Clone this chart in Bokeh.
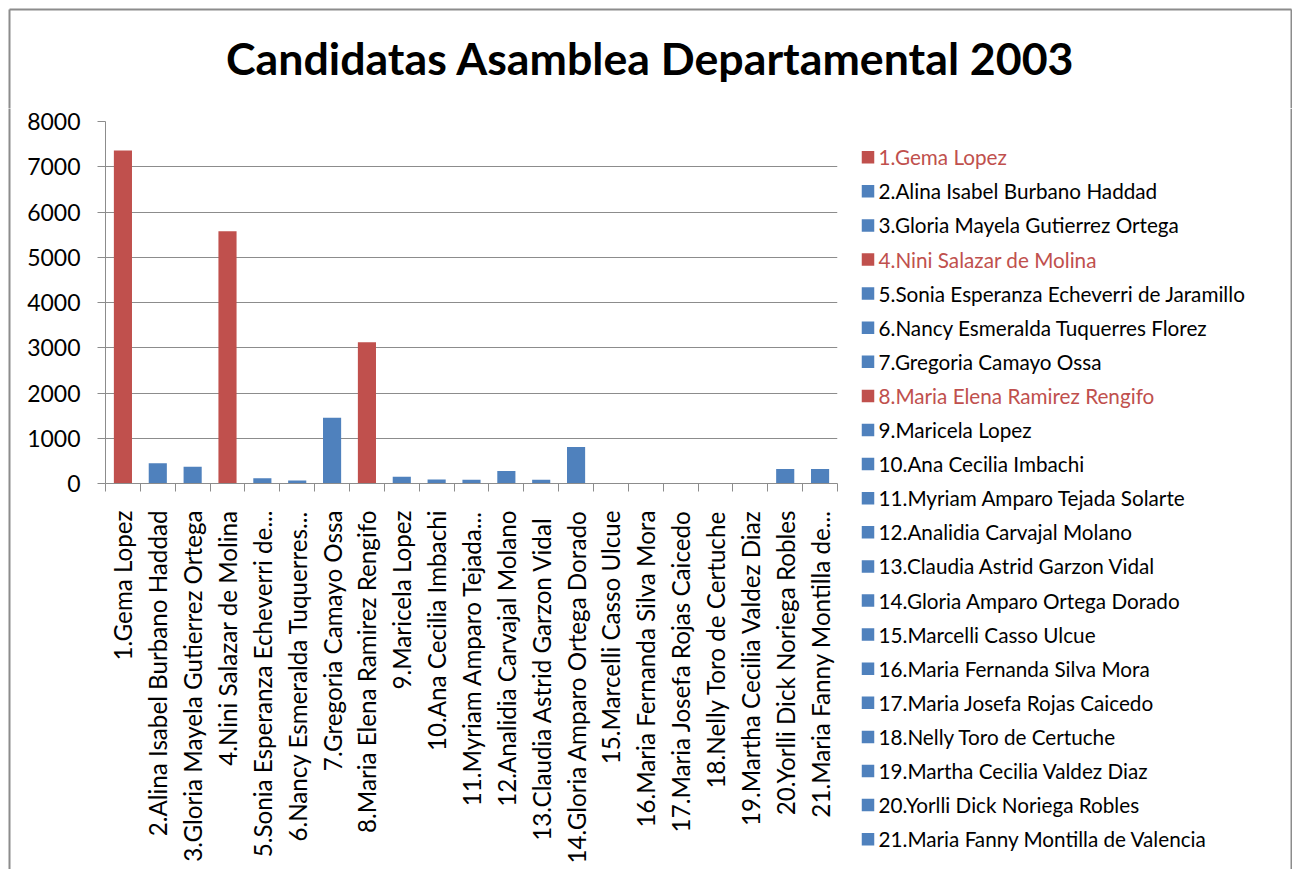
import math
from bokeh.plotting import figure
from bokeh.layouts import column, row
from bokeh.models import Range1d, FixedTicker, ColumnDataSource
from bokeh.core.properties import value
from bokeh.embed import file_html
from bokeh.resources import INLINE

names = [
    "1.Gema Lopez",
    "2.Alina Isabel Burbano Haddad",
    "3.Gloria Mayela Gutierrez Ortega",
    "4.Nini Salazar de Molina",
    "5.Sonia Esperanza Echeverri de Jaramillo",
    "6.Nancy Esmeralda Tuquerres Florez",
    "7.Gregoria Camayo Ossa",
    "8.Maria Elena Ramirez Rengifo",
    "9.Maricela Lopez",
    "10.Ana Cecilia Imbachi",
    "11.Myriam Amparo Tejada Solarte",
    "12.Analidia Carvajal Molano",
    "13.Claudia Astrid Garzon Vidal",
    "14.Gloria Amparo Ortega Dorado",
    "15.Marcelli Casso Ulcue",
    "16.Maria Fernanda Silva Mora",
    "17.Maria Josefa Rojas Caicedo",
    "18.Nelly Toro de Certuche",
    "19.Martha Cecilia Valdez Diaz",
    "20.Yorlli Dick Noriega Robles",
    "21.Maria Fanny Montilla de Valencia",
]
tick_labels = [
    "1.Gema Lopez",
    "2.Alina Isabel Burbano Haddad",
    "3.Gloria Mayela Gutierrez Ortega",
    "4.Nini Salazar de Molina",
    "5.Sonia Esperanza Echeverri de...",
    "6.Nancy Esmeralda Tuquerres...",
    "7.Gregoria Camayo Ossa",
    "8.Maria Elena Ramirez Rengifo",
    "9.Maricela Lopez",
    "10.Ana Cecilia Imbachi",
    "11.Myriam Amparo Tejada...",
    "12.Analidia Carvajal Molano",
    "13.Claudia  Astrid Garzon Vidal",
    "14.Gloria Amparo Ortega Dorado",
    "15.Marcelli Casso Ulcue",
    "16.Maria Fernanda Silva Mora",
    "17.Maria Josefa Rojas Caicedo",
    "18.Nelly Toro de Certuche",
    "19.Martha Cecilia Valdez Diaz",
    "20.Yorlli Dick Noriega Robles",
    "21.Maria Fanny Montilla de...",
]
votes = [7360, 450, 370, 5575, 117, 66, 1453, 3119, 147, 88, 82,
         274, 82, 805, 0, 0, 0, 0, 0, 318, 318]
highlight = [True, False, False, True, False, False, False, True, False, False, False,
             False, False, False, False, False, False, False, False, False, False]
y_ticks = [0, 1000, 2000, 3000, 4000, 5000, 6000, 7000, 8000]
title_text = "Candidatas Asamblea Departamental 2003"

RED = "#C0504D"
BLUE = "#4F81BD"
GRAY = "#8C8C8C"
FONT = "Lato"

n = len(names)
xs = list(range(1, n + 1))
colors = [RED if h else BLUE for h in highlight]
text_colors = [RED if h else "black" for h in highlight]

TOTAL_W = 1292
TITLE_H = 108
BODY_H = 761
EDGE_W = 20
CHART_W = 819
LEG_W = TOTAL_W - EDGE_W - CHART_W
BORDER = 9  # position of the chart-area border line


def blank(fig):
    fig.outline_line_color = None
    fig.xgrid.visible = False
    fig.ygrid.visible = False
    fig.background_fill_color = "white"
    fig.border_fill_color = "white"
    fig.frame_align = False


def plain(w, h):
    f = figure(width=w, height=h, x_range=Range1d(0, w), y_range=Range1d(h, 0),
               output_backend="svg", toolbar_location=None,
               x_axis_location=None, y_axis_location=None, min_border=0)
    blank(f)
    return f


# ---- title strip
t = plain(TOTAL_W, TITLE_H)
t.text(x=[650], y=[57], text=[title_text], text_align="center",
       text_baseline="alphabetic", text_font=value(FONT), text_font_style="bold",
       text_font_size="44.7px", text_color="black")
t.segment(x0=[BORDER, BORDER, TOTAL_W - 1], y0=[BORDER, BORDER, BORDER],
          x1=[TOTAL_W - 1, BORDER, TOTAL_W - 1], y1=[BORDER, TITLE_H, TITLE_H],
          line_color=GRAY, line_width=2)

# ---- left edge strip: its 2px-wide frame is the chart-area border line
edge = figure(width=EDGE_W, height=BODY_H, x_range=Range1d(0, 1), y_range=Range1d(0, 1),
              output_backend="svg", toolbar_location=None,
              x_axis_location=None, y_axis_location=None,
              min_border_left=BORDER - 1, min_border_right=EDGE_W - BORDER - 1,
              min_border_top=0, min_border_bottom=0)
edge.outline_line_color = None
edge.xgrid.visible = False
edge.ygrid.visible = False
edge.border_fill_color = "white"
edge.background_fill_color = GRAY
edge.frame_align = False

# ---- bar chart
src = ColumnDataSource(dict(x=xs, top=votes, color=colors))
p = figure(width=CHART_W, height=BODY_H,
           x_range=Range1d(0.5, n + 0.5), y_range=Range1d(0, 8000),
           output_backend="svg", toolbar_location=None,
           min_border_left=85, min_border_right=2,
           min_border_top=13, min_border_bottom=386)
blank(p)
p.vbar(x="x", top="top", width=0.52, bottom=0, source=src,
       fill_color="color", line_color=None)

xa = p.xaxis[0]
xa.ticker = FixedTicker(ticks=xs, minor_ticks=[i + 0.5 for i in range(0, n + 1)])
xa.major_label_overrides = {x: lbl for x, lbl in zip(xs, tick_labels)}
xa.major_label_orientation = math.pi / 2
xa.major_tick_line_color = None
xa.major_tick_out = 0
xa.major_tick_in = 0
xa.minor_tick_out = 8
xa.minor_tick_in = 0
xa.minor_tick_line_color = GRAY
xa.axis_line_color = GRAY
xa.major_label_standoff = 19
xa.major_label_text_font = FONT
xa.major_label_text_font_size = "24.2px"
xa.major_label_text_color = "black"

ya = p.yaxis[0]
ya.ticker = FixedTicker(ticks=y_ticks)
ya.major_tick_out = 8
ya.major_tick_in = 0
ya.minor_tick_line_color = None
ya.major_tick_line_color = GRAY
ya.axis_line_color = GRAY
ya.major_label_standoff = 17
ya.major_label_text_font = FONT
ya.major_label_text_font_size = "23px"
ya.major_label_text_color = "black"

p.ygrid.visible = True
p.ygrid.ticker = FixedTicker(ticks=y_ticks)
p.ygrid.grid_line_color = GRAY
p.ygrid.grid_line_width = 1

# ---- legend panel
lg = plain(LEG_W, BODY_H)
entry_y = [48.7 + 34.1 * i for i in range(n)]
lsrc = ColumnDataSource(dict(y=entry_y, name=names, color=colors, tcolor=text_colors))
lg.scatter(x=28.5, y="y", marker="square", size=12.5, fill_color="color",
           line_color=None, source=lsrc)
lg.text(x=39, y="y", text="name", text_color="tcolor", text_baseline="middle",
        text_align="left", text_font=value(FONT), text_font_size="20.7px", source=lsrc)
lg.segment(x0=[LEG_W - 1], y0=[0], x1=[LEG_W - 1], y1=[BODY_H], line_color=GRAY, line_width=2)

layout = column(t, row(edge, p, lg))
open("out.html", "w").write(file_html(layout, INLINE))
